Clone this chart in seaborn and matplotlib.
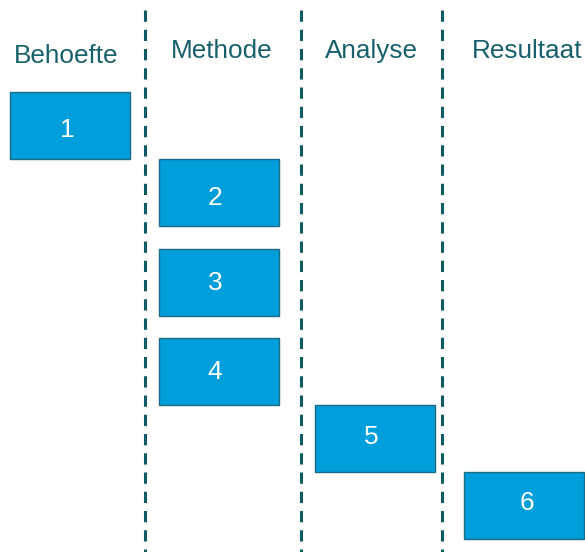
import matplotlib.pyplot as plt
import seaborn as sns

# phases (columns) and steps (boxes)
phases = ['Behoefte', 'Methode', 'Analyse', 'Resultaat']
steps = ['1', '2', '3', '4', '5', '6']
step_phase = [0, 1, 1, 1, 2, 3]

# layout in pixels
col_left = [10, 159, 315, 464]
label_x = [66, 222, 371, 527]
label_y = [56, 51, 51, 51]
box_top = [92, 159, 249, 338, 405, 472]
num_x = [67, 215, 215, 215, 371, 527]
num_y = [130, 198, 283, 372, 437, 503]
box_w, box_h = 120, 67
dividers = [145, 301, 442]

sns.set_theme(style='white')
plt.rcParams['font.family'] = ['Liberation Sans', 'DejaVu Sans']

fig = plt.figure(figsize=(5.85, 5.52), dpi=100)
ax = fig.add_axes([0, 0, 1, 1])
ax.set_xlim(0, 585)
ax.set_ylim(552, 0)
ax.axis('off')

text_col = '#17606b'
line_col = '#0f5a64'
box_col = '#009fdb'

for x in dividers:
    ax.plot([x, x], [10, 560], color=line_col, lw=2.2,
            linestyle=(0, (3.7, 2.6)), dash_capstyle='butt')

for i, name in enumerate(phases):
    ax.text(label_x[i], label_y[i], name, ha='center', va='center',
            fontsize=18.8, color=text_col)

for i, s in enumerate(steps):
    p = step_phase[i]
    ax.barh(box_top[i] + box_h / 2, box_w, height=box_h, left=col_left[p],
            color=box_col, edgecolor='#1b6a86', linewidth=1)
    ax.text(num_x[i], num_y[i], s, ha='center', va='center',
            fontsize=19, color='white')

fig.savefig('out.png', dpi=100)
